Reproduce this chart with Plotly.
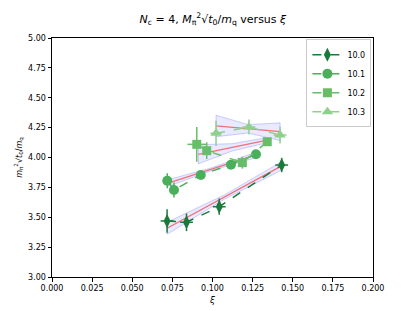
import plotly.graph_objects as go

# ---- data ----
labels = ["10.0", "10.1", "10.2", "10.3"]
colors = ["#1b7a3b", "#4aaf5b", "#68be68", "#8fd18c"]
symbols = ["diamond-tall", "circle", "square", "triangle-up"]

xi_100 = [0.0717, 0.0838, 0.1042, 0.1431]
y_100 = [3.469, 3.458, 3.588, 3.937]
xerr_100 = [0.004, 0.004, 0.004, 0.004]
yerr_100 = [0.098, 0.074, 0.068, 0.060]

xi_101 = [0.0718, 0.0760, 0.0927, 0.1115, 0.1271]
y_101 = [3.806, 3.728, 3.854, 3.940, 4.027]
xerr_101 = [0.001, 0.001, 0.002, 0.002, 0.001]
yerr_101 = [0.063, 0.063, 0.025, 0.020, 0.020]

xi_102 = [0.0902, 0.0964, 0.1186, 0.1341]
y_102 = [4.110, 4.057, 3.957, 4.132]
xerr_102 = [0.0058, 0.002, 0.002, 0.001]
yerr_102 = [0.146, 0.070, 0.050, 0.010]

xi_103 = [0.1022, 0.1227, 0.1421]
y_103 = [4.202, 4.255, 4.188]
xerr_103 = [0.0035, 0.004, 0.004]
yerr_103 = [0.105, 0.063, 0.070]

xs = [xi_100, xi_101, xi_102, xi_103]
ys = [y_100, y_101, y_102, y_103]
xerrs = [xerr_100, xerr_101, xerr_102, xerr_103]
yerrs = [yerr_100, yerr_101, yerr_102, yerr_103]

# linear fits (endpoints) and band half-widths (left, mid, right)
fit_x0 = [0.0717, 0.0718, 0.0912, 0.1022]
fit_x1 = [0.1431, 0.1271, 0.1341, 0.1421]
fit_y0 = [3.408, 3.784, 4.027, 4.264]
fit_y1 = [3.930, 4.021, 4.145, 4.216]
band_w = [
    [0.050, 0.018, 0.035],
    [0.028, 0.012, 0.022],
    [0.080, 0.030, 0.022],
    [0.090, 0.035, 0.074],
]

fig = go.Figure()

# bands + fit lines
for i in range(4):
    x0, x1 = fit_x0[i], fit_x1[i]
    y0, y1 = fit_y0[i], fit_y1[i]
    xm = 0.5 * (x0 + x1)
    ym = 0.5 * (y0 + y1)
    wl, wm, wr = band_w[i]
    bx = [x0, xm, x1, x1, xm, x0, x0]
    by = [y0 + wl, ym + wm, y1 + wr, y1 - wr, ym - wm, y0 - wl, y0 + wl]
    fig.add_trace(go.Scatter(
        x=bx, y=by, mode="lines", fill="toself",
        fillcolor="rgba(100,100,255,0.14)",
        line=dict(color="rgba(100,100,255,0.3)", width=1),
        showlegend=False, hoverinfo="skip"))
    fig.add_trace(go.Scatter(
        x=[x0, x1], y=[y0, y1], mode="lines",
        line=dict(color="#f07078", width=1.3),
        showlegend=False, hoverinfo="skip"))

# data series
marker_sizes = [10, 10, 9, 10]
for i in range(4):
    fig.add_trace(go.Scatter(
        x=xs[i], y=ys[i], name=labels[i], mode="lines+markers",
        line=dict(color=colors[i], width=1.5, dash="dash"),
        marker=dict(symbol=symbols[i], size=marker_sizes[i], color=colors[i],
                    line=dict(width=0)),
        error_y=dict(type="data", array=yerrs[i], color=colors[i],
                     thickness=1.5, width=0),
        error_x=dict(type="data", array=xerrs[i], color=colors[i],
                     thickness=1.5, width=0),
    ))

axis_common = dict(
    showline=True, mirror=True, linecolor="black", linewidth=1,
    ticks="outside", ticklen=3.5, tickwidth=1, tickcolor="black",
    showgrid=False, zeroline=False, automargin=False,
    tickfont=dict(size=8, color="black", family="DejaVu Sans"),
)

fig.update_layout(
    width=415, height=311,
    margin=dict(l=52, r=42, t=38, b=34, autoexpand=False),
    paper_bgcolor="white", plot_bgcolor="white",
    font=dict(family="DejaVu Sans", color="black"),
    title=dict(
        text="<i>N</i><sub>c</sub> = 4, <i>M</i><sub>π</sub><sup>2</sup>√<i>t</i><sub>0</sub>/<i>m</i><sub>q</sub> versus <i>ξ</i>",
        x=0.513, xanchor="center", y=0.94, yanchor="middle",
        font=dict(size=11)),
    xaxis=dict(range=[0, 0.2], tickvals=[0, 0.025, 0.05, 0.075, 0.1, 0.125, 0.15, 0.175, 0.2],
               tickformat=".3f",
               title=dict(text="<i>ξ</i>", font=dict(size=9), standoff=4),
               **axis_common),
    yaxis=dict(range=[3, 5], tickvals=[3, 3.25, 3.5, 3.75, 4, 4.25, 4.5, 4.75, 5],
               tickformat=".2f",
               title=dict(text="<i>m</i><sub>π</sub><sup>2</sup>√<i>t</i><sub>0</sub>/<i>m</i><sub>q</sub>",
                          font=dict(size=8), standoff=4),
               **axis_common),
    legend=dict(x=0.995, y=0.995, xanchor="right", yanchor="top",
                bgcolor="white", bordercolor="#cccccc", borderwidth=1,
                font=dict(size=8), itemwidth=30, tracegroupgap=0),
)

fig.write_html("out.html", config={"displayModeBar": False},
               post_script="document.body.style.margin='0';document.body.style.padding='0';")
